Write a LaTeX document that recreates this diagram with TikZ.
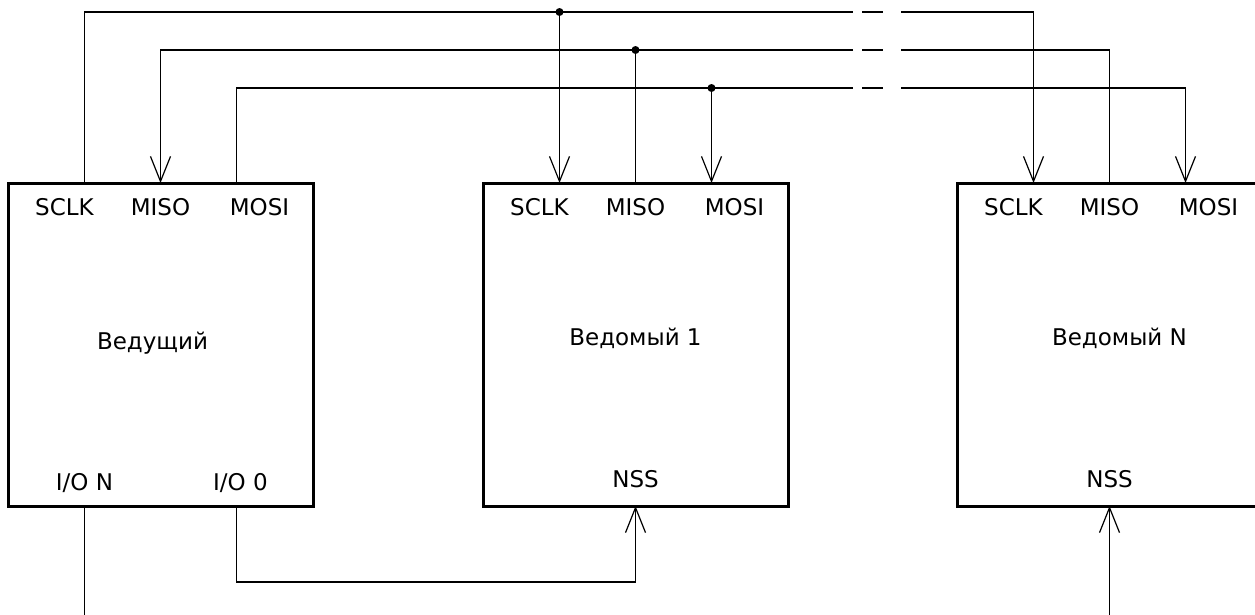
\documentclass[tikz,border=0pt]{standalone}
\usepackage{fontspec}
\setmainfont{DejaVu Sans}
\usetikzlibrary{arrows.meta,calc,positioning}
\definecolor{spiInk}{HTML}{000000}
\tikzset{
  spiBox/.style={
    draw=spiInk,
    line width=3pt,
    minimum width=305pt,
    minimum height=323pt,
    inner sep=0pt,
    outer sep=0pt
  },
  spiWire/.style={draw=spiInk, line width=1.2pt},
  spiArrow/.style={spiWire, -{Straight Barb[length=25pt, width=20pt]}},
  busGap/.style={spiWire, dash pattern=on 0pt off 9pt on 21pt off 100pt},
  pinLabel/.style={font=\fontsize{23}{26}\selectfont, inner sep=1pt},
  junctionDot/.style={circle, fill=spiInk, inner sep=0pt, minimum size=8pt}
}

\begin{document}
\begin{tikzpicture}[x=1pt,y=-1pt]
  \useasboundingbox (0,0) rectangle (1255,614);
  \clip (0,0) rectangle (1255,614);

  \node[spiBox] (master) at (160.5,344.5) {};
  \node[spiBox, right=170pt of master] (slave1) {};
  \node[spiBox, right=169pt of slave1] (slaveN) {};

  \foreach \dev in {master,slave1,slaveN} {
    \coordinate (\dev-sclk) at ($(\dev.north)+(-76,0)$);
    \coordinate (\dev-miso) at (\dev.north);
    \coordinate (\dev-mosi) at ($(\dev.north)+(76,0)$);
    \node[pinLabel] (\dev-sclkLab) at ($(\dev.north)+(-96,24)$) {SCLK};
    \node[pinLabel] (\dev-misoLab) at ($(\dev.north)+(0,24)$) {MISO};
    \node[pinLabel] (\dev-mosiLab) at ($(\dev.north)+(99,24)$) {MOSI};
  }
  \node[pinLabel] (masterTitle) at ($(master.center)+(-8,-1)$) {Ведущий};
  \node[pinLabel] (slave1Title) at ($(slave1.center)+(0,-6)$) {Ведомый 1};
  \node[pinLabel] (slaveNTitle) at ($(slaveN.center)+(10,-6)$) {Ведомый N};

  \coordinate (master-ioN) at ($(master.south)+(-76,0)$);
  \coordinate (master-io0) at ($(master.south)+(76,0)$);
  \node[pinLabel] (ioNLab) at ($(master.south)+(-76,-23)$) {I/O N};
  \node[pinLabel] (io0Lab) at ($(master.south)+(80,-23)$) {I/O 0};
  \foreach \dev in {slave1,slaveN} {
    \coordinate (\dev-nss) at (\dev.south);
    \node[pinLabel] (\dev-nssLab) at ($(\dev.south)+(0,-27)$) {NSS};
  }

  \foreach \sig/\y in {sclk/12,miso/50,mosi/88} {
    \coordinate (\sig-brkL) at (853,\y);
    \coordinate (\sig-brkR) at (901,\y);
    \draw[busGap] (\sig-brkL) -- (\sig-brkR);
  }
  \coordinate (sclk-tap) at (slave1-sclk |- sclk-brkL);
  \coordinate (miso-tap) at (slave1-miso |- miso-brkL);
  \coordinate (mosi-tap) at (slave1-mosi |- mosi-brkL);

  % SCLK
  \draw[spiWire] (master-sclk) |- (sclk-brkL);
  \draw[spiArrow] (sclk-brkR) -| (slaveN-sclk);
  \draw[spiArrow] (sclk-tap) -- (slave1-sclk);
  % MISO
  \draw[spiArrow] (miso-brkL) -| (master-miso);
  \draw[spiWire] (slaveN-miso) |- (miso-brkR);
  \draw[spiWire] (slave1-miso) -- (miso-tap);
  % MOSI
  \draw[spiWire] (master-mosi) |- (mosi-brkL);
  \draw[spiArrow] (mosi-brkR) -| (slaveN-mosi);
  \draw[spiArrow] (mosi-tap) -- (slave1-mosi);

  \foreach \sig in {sclk,miso,mosi}
    \node[junctionDot] (\sig-dot) at (\sig-tap) {};

  \coordinate (ioBend) at ($(master-io0)+(0,76)$);
  \coordinate (ioNEnd) at ($(master-ioN)+(0,120)$);
  \coordinate (nssNStart) at ($(slaveN-nss)+(0,120)$);
  \draw[spiWire] (master-ioN) -- (ioNEnd);
  \draw[spiArrow] (master-io0) -- (ioBend) -| (slave1-nss);
  \draw[spiArrow] (nssNStart) -- (slaveN-nss);
\end{tikzpicture}
\end{document}
